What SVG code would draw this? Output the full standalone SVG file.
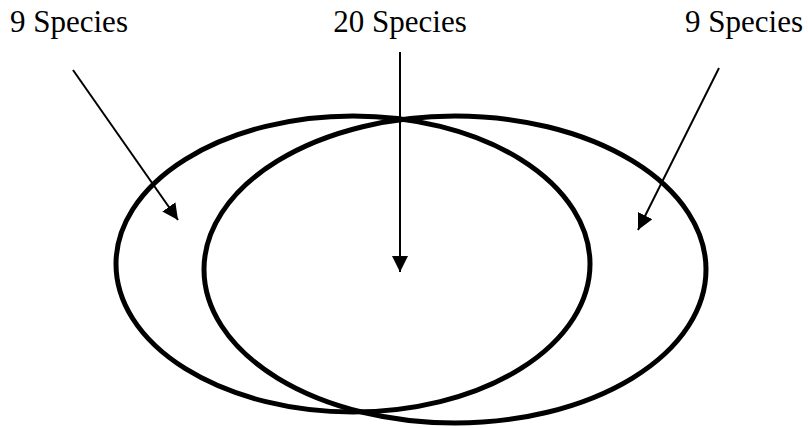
<svg xmlns="http://www.w3.org/2000/svg" width="808" height="428" viewBox="0 0 808 428">
<style>
.lbl{font-family:"Liberation Serif","Times New Roman",serif;font-size:31px;fill:#000}
.ell{fill:none;stroke:#000;stroke-width:5}
.con{stroke:#000;stroke-width:2;fill:none}
</style>
<defs>
<marker id="ah" viewBox="0 0 10 10" refX="10" refY="5" markerWidth="8" markerHeight="8" markerUnits="strokeWidth" orient="auto">
<path d="M0,0 L10,5 L0,10 Z" fill="#000"/>
</marker>
</defs>
<rect width="808" height="428" fill="#fff"/>
<g id="setA"><ellipse class="ell" cx="353" cy="264" rx="237" ry="148"/></g>
<g id="setB"><ellipse class="ell" cx="455" cy="269.5" rx="251" ry="153.5"/></g>
<g id="labelLeft"><text class="lbl" x="10" y="32">9 Species</text></g>
<g id="labelMid"><text class="lbl" x="400" y="32" text-anchor="middle">20 Species</text></g>
<g id="labelRight"><text class="lbl" x="803" y="32" text-anchor="end">9 Species</text></g>
<g id="connectors">
<line class="con" x1="73" y1="70" x2="178" y2="220" marker-end="url(#ah)"/>
<line class="con" x1="400" y1="52" x2="400" y2="272" marker-end="url(#ah)"/>
<line class="con" x1="719" y1="68" x2="638" y2="230" marker-end="url(#ah)"/>
</g>
</svg>
